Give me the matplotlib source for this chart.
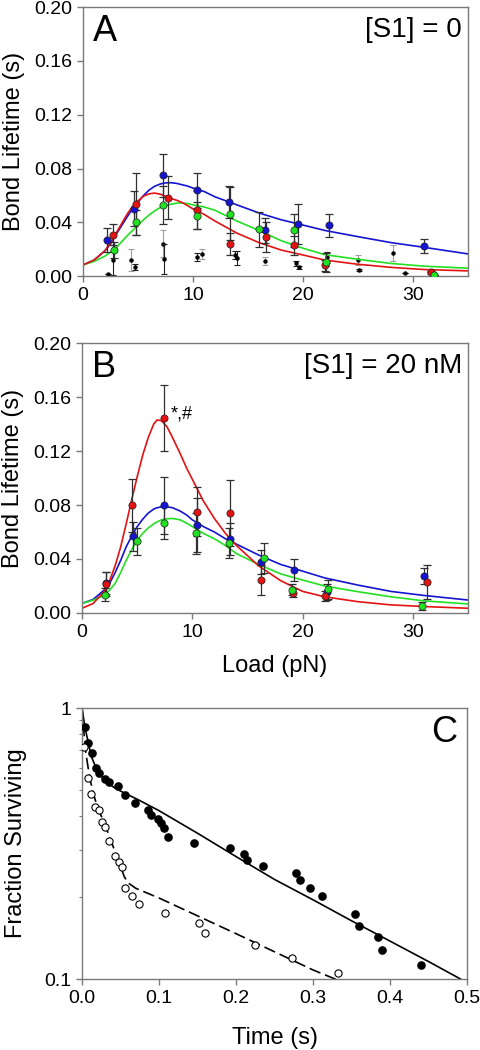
import numpy as np
import matplotlib
matplotlib.use('Agg')
import matplotlib.pyplot as plt
from matplotlib.ticker import NullFormatter

plt.rcParams['font.family'] = ['Liberation Sans', 'DejaVu Sans']

BLUE = '#1414d2'
RED = '#e41212'
GREEN = '#22e022'
SPINE = '#7a7a7a'

# ---- panel A: [S1] = 0 ----
a_blue_x = [2.2, 4.6, 7.3, 10.4, 13.3, 16.5, 19.5, 22.4, 31.0]
a_blue_y = [0.027, 0.050, 0.075, 0.064, 0.055, 0.034, 0.039, 0.038, 0.0225]
a_blue_e = [0.009, 0.013, 0.016, 0.013, 0.012, 0.009, 0.015, 0.0085, 0.005]

a_red_x = [2.7, 4.8, 7.75, 10.4, 13.4, 16.6, 19.2, 22.0, 31.6]
a_red_y = [0.031, 0.054, 0.0585, 0.049, 0.024, 0.029, 0.023, 0.008, 0.003]
a_red_e = [0.008, 0.023, 0.016, 0.014, 0.008, 0.011, 0.007, 0.004, 0.001]

a_green_x = [2.8, 4.8, 7.3, 10.4, 13.4, 16.0, 19.2, 22.1, 31.9]
a_green_y = [0.0196, 0.040, 0.053, 0.045, 0.0466, 0.035, 0.034, 0.0104, 0.0007]
a_green_e = [0.006, 0.009, 0.014, 0.010, 0.020, 0.013, 0.012, 0.007, 0.0]

a_blk_x = [2.3, 2.7, 4.7, 7.4, 10.4, 13.8, 14.0, 19.4, 19.6, 22.1, 22.2, 25.1, 29.3, 31.5]
a_blk_y = [0.002, 0.012, 0.007, 0.013, 0.014, 0.0158, 0.0134, 0.0097, 0.0067, 0.0097, 0.0141, 0.0047, 0.0027, 0.0034]
a_blk_e = [0.0, 0.011, 0.002, 0.011, 0.003, 0.003, 0.005, 0.002, 0.001, 0.002, 0.004, 0.001, 0.0, 0.0]

a_gry_x = [4.4, 7.3, 10.8, 16.5, 25.0, 28.2]
a_gry_y = [0.012, 0.024, 0.0166, 0.0116, 0.012, 0.017]
a_gry_e = [0.008, 0.010, 0.004, 0.003, 0.004, 0.006]

# fitted curves
fit_x = [0, 1, 2, 2.5, 3, 3.5, 4, 4.5, 5, 5.5, 6, 6.5, 7, 7.5, 8, 8.5, 9, 9.5, 10,
         11, 12, 14, 16, 18, 20, 22, 25, 28, 31, 35]
a_blue_fit = [0.0084, 0.012, 0.019, 0.024, 0.031, 0.0375, 0.044, 0.050, 0.055, 0.060, 0.064,
              0.0668, 0.0685, 0.0694, 0.0695, 0.069, 0.068, 0.067, 0.0655,
              0.063, 0.059, 0.053, 0.047, 0.042, 0.038, 0.034, 0.0294, 0.025, 0.0215, 0.0166]
a_red_fit = [0.0084, 0.012, 0.019, 0.025, 0.032, 0.039, 0.046, 0.052, 0.056, 0.0595, 0.0612,
             0.0618, 0.061, 0.0595, 0.0578, 0.0565, 0.0548, 0.0525, 0.050,
             0.046, 0.041, 0.032, 0.025, 0.0195, 0.0158, 0.012, 0.0089, 0.0066, 0.005, 0.004]
a_green_fit = [0.0084, 0.011, 0.015, 0.018, 0.021, 0.0255, 0.030, 0.034, 0.038, 0.042, 0.0455,
               0.0485, 0.051, 0.0525, 0.0535, 0.0543, 0.0545, 0.054, 0.053,
               0.0515, 0.049, 0.041, 0.034, 0.0265, 0.0208, 0.016, 0.0126, 0.0095, 0.0075, 0.006]

# ---- panel B: [S1] = 20 nM ----
b_blue_x = [2.2, 4.6, 7.4, 10.4, 13.4, 16.2, 19.2, 22.2, 31.0]
b_blue_y = [0.022, 0.0567, 0.0797, 0.065, 0.055, 0.0376, 0.0317, 0.0153, 0.0277]
b_blue_e = [0.008, 0.011, 0.021, 0.020, 0.012, 0.009, 0.008, 0.006, 0.006]

b_red_x = [2.2, 4.5, 7.4, 10.4, 13.4, 16.2, 19.1, 22.0, 31.3]
b_red_y = [0.0213, 0.0797, 0.1446, 0.075, 0.0738, 0.0245, 0.015, 0.0126, 0.023]
b_red_e = [0.009, 0.0195, 0.0245, 0.018, 0.0245, 0.011, 0.003, 0.004, 0.0125]

b_green_x = [2.1, 5.0, 7.4, 10.3, 13.3, 16.5, 19.0, 22.3, 30.8]
b_green_y = [0.0136, 0.0532, 0.067, 0.059, 0.0517, 0.0408, 0.0173, 0.0176, 0.0052]
b_green_e = [0.005, 0.010, 0.012, 0.015, 0.011, 0.011, 0.004, 0.007, 0.003]

b_fit_x = [0, 1, 2, 2.5, 3, 3.5, 4, 4.5, 5, 5.5, 6, 6.5, 6.8, 7.2, 7.7, 8.2, 8.9, 9.5, 10,
           10.5, 11, 12, 13, 14, 16, 18, 20, 22, 25, 28, 31, 35]
b_red_fit = [0.0035, 0.007, 0.016, 0.024, 0.035, 0.049, 0.066, 0.084, 0.101, 0.117, 0.130,
             0.140, 0.143, 0.1425, 0.138, 0.130, 0.118, 0.107, 0.099,
             0.091, 0.083, 0.070, 0.059, 0.050, 0.035, 0.024, 0.016, 0.012, 0.0084, 0.006, 0.0048, 0.0035]
b_blue_fit = [0.0072, 0.010, 0.017, 0.022, 0.030, 0.039, 0.049, 0.057, 0.064, 0.0695, 0.074,
              0.077, 0.078, 0.0786, 0.0787, 0.078, 0.0755, 0.0725, 0.069,
              0.0665, 0.064, 0.060, 0.055, 0.051, 0.043, 0.036, 0.031, 0.026, 0.0207, 0.016, 0.013, 0.0096]
b_green_fit = [0.0072, 0.0095, 0.013, 0.017, 0.022, 0.030, 0.039, 0.047, 0.054, 0.059, 0.063,
               0.066, 0.0675, 0.069, 0.0698, 0.070, 0.069, 0.0665, 0.064,
               0.0615, 0.059, 0.055, 0.050, 0.044, 0.036, 0.029, 0.0244, 0.020, 0.0158, 0.012, 0.009, 0.0067]

# ---- panel C: survival ----
c_fill_t = [0.0043, 0.0082, 0.0134, 0.0177, 0.0221, 0.0303, 0.0346, 0.0471, 0.0558, 0.0683,
            0.0856, 0.0895, 0.0982, 0.1025, 0.1068, 0.1112, 0.1458, 0.1925, 0.2098, 0.2137,
            0.2353, 0.2781, 0.2829, 0.2958, 0.3118, 0.3551, 0.3594, 0.3845, 0.3897, 0.4407]
c_fill_y = [0.849, 0.741, 0.683, 0.600, 0.575, 0.545, 0.533, 0.515, 0.476, 0.446,
            0.419, 0.404, 0.391, 0.377, 0.361, 0.334, 0.318, 0.304, 0.2905, 0.2746,
            0.2617, 0.2467, 0.2318, 0.2173, 0.2030, 0.1734, 0.1575, 0.1427, 0.1282, 0.1126]
c_open_t = [0.003, 0.0074, 0.0121, 0.0173, 0.0221, 0.026, 0.0303, 0.0346, 0.0433, 0.0476,
            0.0519, 0.0562, 0.0649, 0.0735, 0.1081, 0.1514, 0.16, 0.2249, 0.2729, 0.333]
c_open_y = [0.721, 0.551, 0.483, 0.431, 0.419, 0.380, 0.364, 0.3235, 0.285, 0.2708,
            0.258, 0.216, 0.203, 0.189, 0.1748, 0.1616, 0.1476, 0.1330, 0.1195, 0.1052]

c_solid_t = [0, 0.0035, 0.0078, 0.0121, 0.0165, 0.0208, 0.027, 0.0338, 0.042, 0.051, 0.0727,
             0.1, 0.15, 0.2, 0.25, 0.3, 0.35, 0.4, 0.45, 0.5]
c_solid_y = [1.0, 0.854, 0.752, 0.662, 0.617, 0.583, 0.552, 0.528, 0.508, 0.492, 0.459,
             0.418, 0.345, 0.283, 0.233, 0.196, 0.164, 0.138, 0.116, 0.097]
c_dash_t = [0, 0.002, 0.005, 0.01, 0.015, 0.02, 0.03, 0.04, 0.05, 0.055, 0.06, 0.07, 0.1, 0.15,
            0.2, 0.25, 0.3, 0.34]
c_dash_y = [1.0, 0.83, 0.68, 0.55, 0.48, 0.43, 0.37, 0.31, 0.26, 0.238, 0.226, 0.216, 0.199,
            0.171, 0.147, 0.126, 0.108, 0.097]


def style_axes(ax):
    for s in ax.spines.values():
        s.set_color(SPINE)
        s.set_linewidth(1.0)
    ax.tick_params(direction='out', length=4, width=1, color=SPINE, labelsize=14, pad=4)
    ax.tick_params(top=False, right=False)


def draw_group(ax, x, y, e, color, ms=5.2):
    ax.errorbar(x, y, yerr=e, fmt='none', ecolor='#303030', elinewidth=0.9,
                capsize=3, capthick=0.9, zorder=3)
    ax.plot(x, y, 'o', color=color, mec='#202020', mew=0.5, ms=ms, zorder=4)


fig = plt.figure(figsize=(4.8, 10.5), dpi=100)
axA = fig.add_axes([0.173, 0.7369, 0.802, 0.2564])
axB = fig.add_axes([0.171, 0.4162, 0.804, 0.2571])
axC = fig.add_axes([0.171, 0.0676, 0.802, 0.2581])

# panel A
axA.errorbar(a_gry_x, a_gry_y, yerr=a_gry_e, fmt='none', ecolor='#a0a0a0', elinewidth=0.8,
             capsize=2.2, capthick=0.8, zorder=2)
axA.plot(a_gry_x, a_gry_y, 'o', color='black', ms=2.2, zorder=2)
axA.errorbar(a_blk_x, a_blk_y, yerr=a_blk_e, fmt='none', ecolor='#202020', elinewidth=0.8,
             capsize=2.2, capthick=0.8, zorder=2)
axA.plot(a_blk_x, a_blk_y, 'o', color='black', ms=2.2, zorder=2)
axA.plot(fit_x, a_blue_fit, color=BLUE, lw=1.2, zorder=2.5)
axA.plot(fit_x, a_green_fit, color=GREEN, lw=1.2, zorder=2.5)
axA.plot(fit_x, a_red_fit, color=RED, lw=1.2, zorder=2.5)
draw_group(axA, a_blue_x, a_blue_y, a_blue_e, BLUE)
draw_group(axA, a_red_x, a_red_y, a_red_e, RED)
draw_group(axA, a_green_x, a_green_y, a_green_e, GREEN)

# panel B
axB.plot(b_fit_x, b_blue_fit, color=BLUE, lw=1.2, zorder=2.5)
axB.plot(b_fit_x, b_green_fit, color=GREEN, lw=1.2, zorder=2.5)
axB.plot(b_fit_x, b_red_fit, color=RED, lw=1.2, zorder=2.5)
draw_group(axB, b_blue_x, b_blue_y, b_blue_e, BLUE)
draw_group(axB, b_red_x, b_red_y, b_red_e, RED)
draw_group(axB, b_green_x, b_green_y, b_green_e, GREEN)
axB.text(8.0, 0.1475, '*,#', fontsize=13, va='center', ha='left')

for ax, letter, cond in [(axA, 'A', '[S1] = 0'), (axB, 'B', '[S1] = 20 nM')]:
    style_axes(ax)
    ax.set_xlim(0, 35)
    ax.set_ylim(0, 0.2)
    ax.set_xticks([0, 10, 20, 30])
    ax.set_yticks([0.0, 0.04, 0.08, 0.12, 0.16, 0.20])
    ax.set_yticklabels(['%.2f' % v for v in [0.0, 0.04, 0.08, 0.12, 0.16, 0.20]])
    ax.set_ylabel('Bond Lifetime (s)', fontsize=17, labelpad=6.5)
    ax.text(0.025, 0.91, letter, transform=ax.transAxes, fontsize=26, ha='left', va='center')
    ax.text(0.985, 0.915, cond, transform=ax.transAxes, fontsize=20, ha='right', va='center')

axB.set_xlabel('Load (pN)', fontsize=17, labelpad=10)

# panel C
axC.plot(c_solid_t, c_solid_y, color='black', lw=1.2, zorder=2)
axC.plot(c_dash_t, c_dash_y, color='black', lw=1.2, ls=(0, (7, 3)), zorder=2)
axC.plot(c_fill_t, c_fill_y, 'o', color='black', ms=5.2, zorder=3)
axC.plot(c_open_t, c_open_y, 'o', mfc='white', mec='black', mew=0.8, ms=5.2, zorder=3)
axC.set_yscale('log')
axC.set_xlim(0, 0.5)
axC.set_ylim(0.1, 1)
axC.set_xticks([0.0, 0.1, 0.2, 0.3, 0.4, 0.5])
axC.set_xticklabels(['%.1f' % v for v in [0.0, 0.1, 0.2, 0.3, 0.4, 0.5]])
axC.set_yticks([0.1, 1])
axC.set_yticklabels(['0.1', '1'])
axC.set_yticks([0.2, 0.3, 0.4, 0.5, 0.6, 0.7, 0.8, 0.9], minor=True)
axC.yaxis.set_minor_formatter(NullFormatter())
style_axes(axC)
axC.tick_params(which='minor', direction='out', length=2.5, width=0.8, color=SPINE)
axC.set_xlabel('Time (s)', fontsize=17, labelpad=14)
axC.set_ylabel('Fraction Surviving', fontsize=17, labelpad=12)
axC.text(0.975, 0.91, 'C', transform=axC.transAxes, fontsize=26, ha='right', va='center')

fig.savefig('out.png', dpi=100)
